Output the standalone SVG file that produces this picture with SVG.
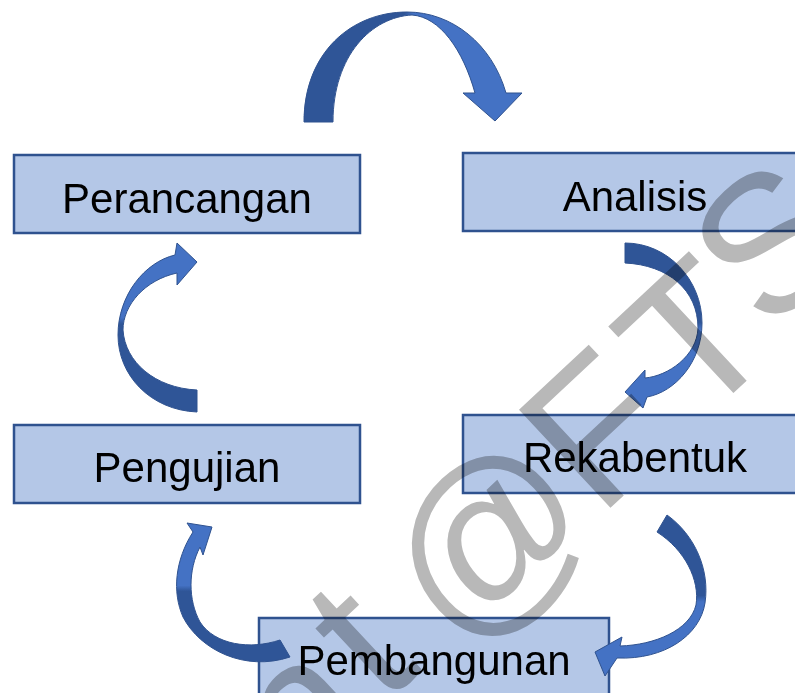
<svg xmlns="http://www.w3.org/2000/svg" width="795" height="693" viewBox="0 0 795 693">
<style>
.box{fill:#b4c7e7;stroke:#2f528f;stroke-width:2.5}
.lbl{font-family:"Liberation Sans",Arial,sans-serif;font-size:42px;fill:#000;text-anchor:middle}
.arr{stroke:#2f528f;stroke-width:1;stroke-linejoin:miter}
.wm{font-family:"Liberation Sans",Arial,sans-serif;font-size:195px;fill:#b8b8b8;mix-blend-mode:multiply}
</style>
<defs>
<linearGradient id="g1" gradientUnits="userSpaceOnUse" x1="304" y1="0" x2="522" y2="0">
<stop offset="0" stop-color="#2f5597"/><stop offset="0.46" stop-color="#2f5597"/><stop offset="0.5" stop-color="#4472c4"/><stop offset="1" stop-color="#4472c4"/>
</linearGradient>
<linearGradient id="g2" gradientUnits="userSpaceOnUse" x1="0" y1="243" x2="0" y2="408">
<stop offset="0" stop-color="#2f5597"/><stop offset="0.48" stop-color="#2f5597"/><stop offset="0.52" stop-color="#4472c4"/><stop offset="1" stop-color="#4472c4"/>
</linearGradient>
<linearGradient id="g3" gradientUnits="userSpaceOnUse" x1="0" y1="243" x2="0" y2="412">
<stop offset="0" stop-color="#4472c4"/><stop offset="0.44" stop-color="#4472c4"/><stop offset="0.48" stop-color="#2f5597"/><stop offset="1" stop-color="#2f5597"/>
</linearGradient>
<linearGradient id="g4" gradientUnits="userSpaceOnUse" x1="0" y1="523" x2="0" y2="665">
<stop offset="0" stop-color="#4472c4"/><stop offset="0.44" stop-color="#4472c4"/><stop offset="0.48" stop-color="#2f5597"/><stop offset="1" stop-color="#2f5597"/>
</linearGradient>
<linearGradient id="g5" gradientUnits="userSpaceOnUse" x1="0" y1="515" x2="0" y2="676">
<stop offset="0" stop-color="#2f5597"/><stop offset="0.5" stop-color="#2f5597"/><stop offset="0.54" stop-color="#4472c4"/><stop offset="1" stop-color="#4472c4"/>
</linearGradient>
</defs>

<g id="n1"><rect class="box" x="14" y="155" width="346" height="78"/><text class="lbl" x="187" y="213">Perancangan</text></g>
<g id="n2"><rect class="box" x="463" y="153" width="346" height="78"/><text class="lbl" x="635" y="211">Analisis</text></g>
<g id="n3"><rect class="box" x="463" y="415" width="346" height="78"/><text class="lbl" x="635" y="472">Rekabentuk</text></g>
<g id="n4"><rect class="box" x="259" y="618" width="350" height="78"/><text class="lbl" x="434" y="675">Pembangunan</text></g>
<g id="n5"><rect class="box" x="14" y="425" width="346" height="78"/><text class="lbl" x="187" y="482">Pengujian</text></g>

<g id="connectors">
<path class="arr" fill="url(#g1)" d="M304,122 C304,52 352,12 407,12 C452,12 492,44 506,93 L522,93 L495,121 L463,93 L475,93 C463,50 440,17 412,15 C372,17 333,55 333,122 Z"/>
<path class="arr" fill="url(#g2)" d="M625,243 C668,243 702,280 702,323 C702,362 675,392 647,397 L643,408 L625,392 L645,370 L645,378 C668,376 697,356 698,328 C698,290 668,265 625,263 Z"/>
<path class="arr" fill="url(#g3)" d="M197,412 C150,410 118,375 118,335 C118,295 145,262 175,255 L177,243 L197,262 L177,285 L177,273 C145,280 123,305 123,330 C125,362 155,388 197,390 Z"/>
<path class="arr" fill="url(#g4)" d="M290,657 C245,672 200,650 183,617 C172,592 175,560 193,532 L187,523 L212,527 L203,555 L200,547 C188,570 188,600 200,622 C215,645 250,650 280,640 Z"/>
<path class="arr" fill="url(#g5)" d="M667,515 C695,535 710,570 705,603 C700,635 665,660 617,658 L605,676 L595,652 L622,637 L620,646 C655,645 690,630 696,605 C700,580 685,550 657,532 Z"/>
</g>

<text class="wm" transform="translate(740,387) rotate(-43)"><tspan x="-600" y="0">n</tspan><tspan x="-478" y="-10">t</tspan><tspan x="-388" y="5">@</tspan><tspan x="-193" y="0">F</tspan><tspan x="-59.5" y="0">T</tspan><tspan x="56" y="-18">S</tspan></text>
</svg>
